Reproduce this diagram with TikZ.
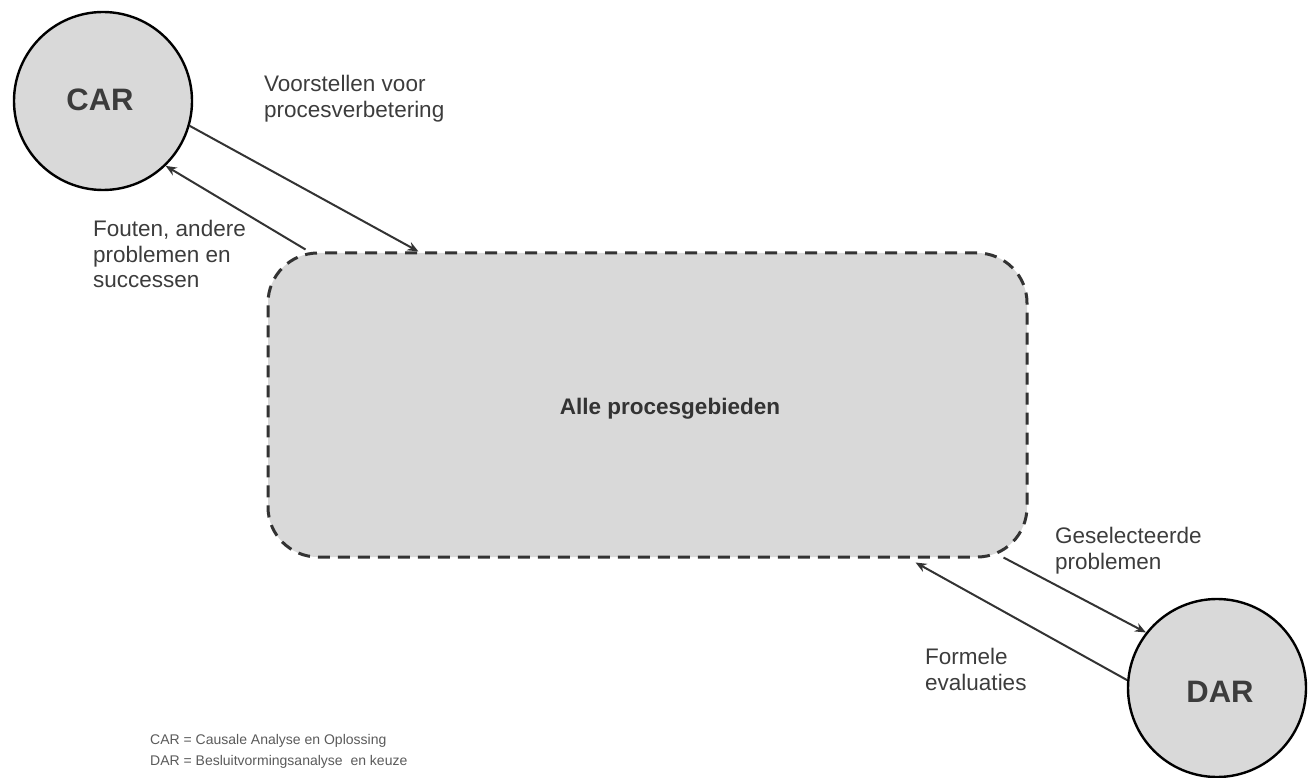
\documentclass[tikz,border=0pt]{standalone}
\usepackage{fontspec}
\setmainfont{Liberation Sans}
\usetikzlibrary{calc,arrows.meta}
\definecolor{fillgray}{HTML}{D9D9D9}
\definecolor{inkgray}{HTML}{333333}
\definecolor{textgray}{HTML}{3C3C3C}
\definecolor{legendgray}{HTML}{5A5A5A}
\begin{document}
\begin{tikzpicture}[x=1pt,y=-1pt,
  actor/.style={circle,draw=black,line width=2.4pt,fill=fillgray,
    minimum size=178pt,inner sep=0pt},
  actorname/.style={inner sep=0pt,text=textgray,
    font=\fontsize{31}{33}\selectfont\bfseries},
  area/.style={rectangle,rounded corners=50pt,draw=inkgray,line width=3pt,
    dash pattern=on 12pt off 8pt,fill=fillgray,
    minimum width=759pt,minimum height=304pt,inner sep=0pt},
  areaname/.style={inner sep=0pt,text=inkgray,
    font=\fontsize{22.5}{25}\selectfont\bfseries},
  flow/.style={draw=inkgray,line width=2pt,-{Stealth[length=11pt,width=9pt]}},
  lbl/.style={anchor=north west,align=left,text=textgray,inner sep=0pt,
    font=\fontsize{22.5}{25.5}\selectfont},
  legend/.style={anchor=north west,align=left,text=legendgray,inner sep=0pt,
    font=\fontsize{14}{21}\selectfont}]
\useasboundingbox (0,0) rectangle (1312,778);

% the two analysis circles and the central process area
\node[actor] (car) at (103,101) {};
\node[actorname] (cartext) at (100,100) {CAR};
\node[actor] (dar) at (1217,688) {};
\node[actorname] (dartext) at (1220,692) {DAR};
\node[area] (rect) at (647.5,405) {};
\node[areaname] (recttext) at (670,409) {Alle procesgebieden};

% attachment points on the dashed border
\coordinate (rtop) at ($(rect.north west)+(152,0)$);
\coordinate (rcorner) at ($(rect.north west)+(39,-2)$);
\coordinate (rcornerb) at ($(rect.south east)+(-25,-1)$);
\coordinate (rbot) at ($(rect.south west)+(649,4)$);

% connectors
\draw[flow] (car.-16) -- (rtop);
\draw[flow] (rcorner) -- (car.-46);
\draw[flow] (rcornerb) -- (dar.142);
\draw[flow] (dar.175) -- (rbot);

% connector labels
\node[lbl] (lvoor) at (264,75) {Voorstellen voor\\procesverbetering};
\node[lbl] (lfout) at (93,220) {Fouten, andere\\problemen en\\successen};
\node[lbl] (lgesel) at (1055,527) {Geselecteerde\\problemen};
\node[lbl] (lform) at (925,648) {Formele\\evaluaties};

% legend
\node[legend] (leg) at (150,734) {CAR = Causale Analyse en Oplossing\\DAR = Besluitvormingsanalyse~ en keuze};
\end{tikzpicture}
\end{document}
